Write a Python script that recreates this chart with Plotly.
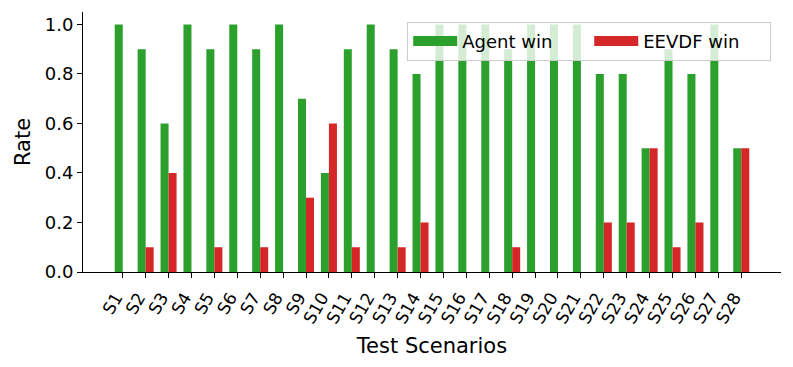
import plotly.graph_objects as go

scenarios = ["S%d" % i for i in range(1, 29)]
agent_win = [1.0, 0.9, 0.6, 1.0, 0.9, 1.0, 0.9, 1.0, 0.7, 0.4,
             0.9, 1.0, 0.9, 0.8, 1.0, 1.0, 1.0, 0.9, 1.0, 1.0,
             1.0, 0.8, 0.8, 0.5, 0.9, 0.8, 1.0, 0.5]
eevdf_win = [0.0, 0.1, 0.4, 0.0, 0.1, 0.0, 0.1, 0.0, 0.3, 0.6,
             0.1, 0.0, 0.1, 0.2, 0.0, 0.0, 0.0, 0.1, 0.0, 0.0,
             0.0, 0.2, 0.2, 0.5, 0.1, 0.2, 0.0, 0.5]
series = [("Agent win", agent_win, "#2ca02c"), ("EEVDF win", eevdf_win, "#d62728")]

font = "DejaVu Sans, sans-serif"

fig = go.Figure()
for name, vals, color in series:
    fig.add_trace(go.Bar(x=scenarios, y=vals, name=name, showlegend=False,
                         marker=dict(color=color, line=dict(width=0))))
# legend entries drawn as thick line swatches (wide rectangles like matplotlib)
for name, vals, color in series:
    fig.add_trace(go.Scatter(x=[None], y=[None], name=name, mode="lines",
                             line=dict(color=color, width=14)))

# page has an 8px body margin, so shrink the figure to fit the window
fig.update_layout(
    width=785, height=359,
    barmode="group", bargap=0.3, bargroupgap=0,
    plot_bgcolor="white", paper_bgcolor="white",
    margin=dict(l=75, r=12, t=4, b=95),
    font=dict(family=font, size=18, color="black"),
    legend=dict(orientation="h", x=0.986, y=0.962, xanchor="right", yanchor="top",
                bgcolor="rgba(255,255,255,0.8)", bordercolor="#cccccc", borderwidth=1,
                font=dict(size=18), itemwidth=44, entrywidth=122),
    showlegend=True,
)
fig.update_xaxes(
    range=[-1.735, 28.735], showline=True, linecolor="black", linewidth=1,
    ticks="outside", ticklen=5, tickcolor="black", tickangle=-60,
    ticklabelshift=-7, ticklabelstandoff=3,
    showgrid=False, tickfont=dict(size=17), automargin=False,
    title=dict(text="Test Scenarios", font=dict(size=21), standoff=12),
)
fig.update_yaxes(
    range=[0, 1.05], showline=True, linecolor="black", linewidth=1,
    ticks="outside", ticklen=5, tickcolor="black", tickformat=".1f",
    tickvals=[0, 0.2, 0.4, 0.6, 0.8, 1.0], showgrid=False, zeroline=False,
    tickfont=dict(size=18), automargin=False,
    title=dict(text="Rate", font=dict(size=21), standoff=8),
)

fig.write_html("out.html")
